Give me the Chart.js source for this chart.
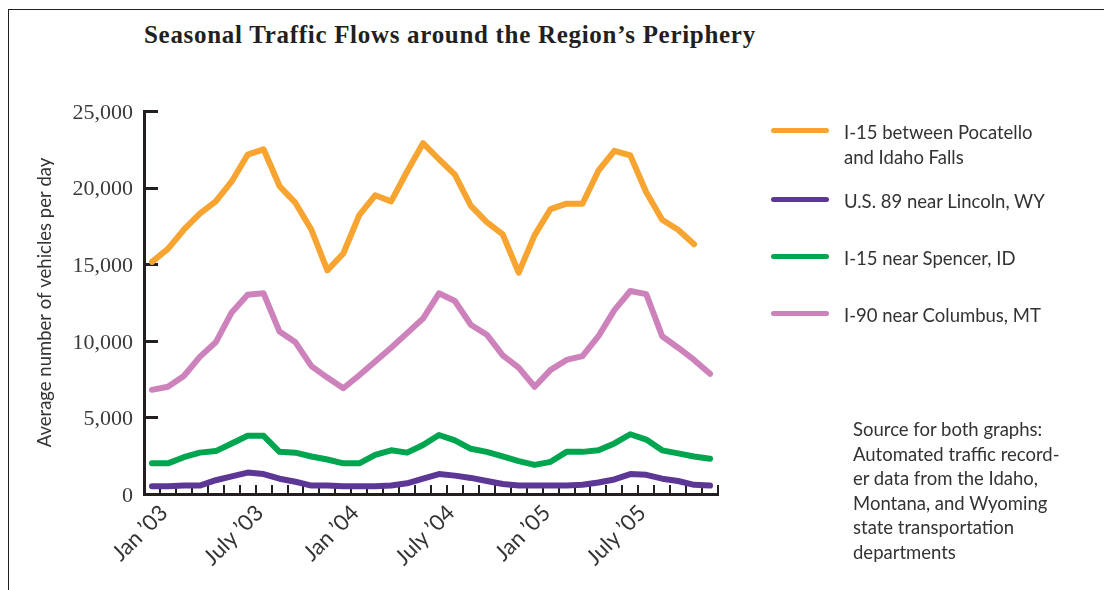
<!DOCTYPE html>
<html>
<head>
<meta charset="utf-8">
<script src="https://cdn.jsdelivr.net/npm/chart.js@4.4.0/dist/chart.umd.min.js"></script>
<style>
  body { margin: 0; background: #fff; }
  #wrap { position: relative; width: 1104px; height: 590px; overflow: hidden; }
  #frame { position: absolute; left: 8px; top: 9px; width: 1200px; height: 700px;
           border-left: 1px solid #231f20; border-top: 1px solid #231f20; }
  #title { position: absolute; left: 144px; top: 22px; font: bold 25px/25px "Liberation Serif", serif;
           letter-spacing: 0.7px; color: #231f20; white-space: nowrap; }
  #chart { position: absolute; left: 0; top: 0; }
  .lg-item { position: absolute; left: 771px; }
  .lg-swatch { position: absolute; left: 0; width: 58px; height: 5px; border-radius: 3px; }
  .lg-text { position: absolute; left: 73px; top: 0; white-space: pre; font: 18.5px/25px Lato, sans-serif; color: #333; }
  #source { position: absolute; left: 853px; top: 417px; font: 18.5px/24.5px Lato, sans-serif; color: #333; }
</style>
</head>
<body>
<div id="wrap">
  <div id="frame"></div>
  <div id="title">Seasonal Traffic Flows around the Region’s Periphery</div>
  <canvas id="chart" width="1104" height="590"></canvas>
  <div id="legend"></div>
  <div id="source">Source for both graphs:<br>Automated traffic record-<br>er data from the Idaho,<br>Montana, and Wyoming<br>state transportation<br>departments</div>
</div>
<script>
// months on the x axis (only Jan and July are labelled)
const months = [
    "Jan ’03", "Feb ’03", "Mar ’03", "Apr ’03", "May ’03", "June ’03",
    "July ’03", "Aug ’03", "Sep ’03", "Oct ’03", "Nov ’03", "Dec ’03",
    "Jan ’04", "Feb ’04", "Mar ’04", "Apr ’04", "May ’04", "June ’04",
    "July ’04", "Aug ’04", "Sep ’04", "Oct ’04", "Nov ’04", "Dec ’04",
    "Jan ’05", "Feb ’05", "Mar ’05", "Apr ’05", "May ’05", "June ’05",
    "July ’05", "Aug ’05", "Sep ’05", "Oct ’05", "Nov ’05", "Dec ’05"
];

const i15Pocatello = [
    15150, 16000, 17250, 18300, 19100, 20400, 22150, 22500, 20100, 19000, 17250, 14600,
    15700, 18200, 19500, 19100, 21050, 22900, 21850, 20850, 18800, 17750, 16950, 14450,
    16900, 18600, 18950, 18950, 21100, 22400, 22100, 19700, 17900, 17250, 16300, null
];
const us89Lincoln = [
    500, 500, 550, 550, 900, 1150, 1400, 1300, 1000, 800, 550, 550,
    500, 500, 500, 550, 700, 1000, 1300, 1200, 1050, 850, 650, 550,
    550, 550, 550, 600, 750, 950, 1300, 1250, 1000, 850, 600, 550
];
const i15Spencer = [
    2000, 2000, 2400, 2700, 2800, 3300, 3800, 3800, 2750, 2700, 2450, 2250,
    2000, 2000, 2550, 2850, 2700, 3200, 3850, 3500, 2950, 2750, 2450, 2150,
    1900, 2100, 2750, 2750, 2850, 3300, 3900, 3550, 2850, 2650, 2450, 2300
];
const i90Columbus = [
    6800, 7000, 7700, 8950, 9900, 11850, 13000, 13100, 10600, 9900, 8350, 7600,
    6900, 7750, 8650, 9550, 10500, 11450, 13100, 12600, 11050, 10400, 9050, 8250,
    7000, 8100, 8750, 9000, 10300, 12000, 13250, 13050, 10300, 9550, 8750, 7850
];

const yTicks = [0, 5000, 10000, 15000, 20000, 25000];

const seriesNames = [
    "I-15 between Pocatello\nand Idaho Falls",
    "U.S. 89 near Lincoln, WY",
    "I-15 near Spencer, ID",
    "I-90 near Columbus, MT"
];
const seriesColors = ["#f7a430", "#5c3796", "#00a54f", "#cd82bc"];

const axisColor = "#231f20";

// small tick marks pointing into the plot, like the printed original
const inwardTicks = {
    id: "inwardTicks",
    beforeDatasetsDraw(chart) {
        const { ctx, chartArea, scales: { x, y } } = chart;
        ctx.save();
        ctx.strokeStyle = axisColor;
        ctx.lineWidth = 2;
        ctx.beginPath();
        for (let i = 1; i <= months.length; i++) {
            const px = Math.round(x.getPixelForValue(i - 0.5));
            ctx.moveTo(px, chartArea.bottom);
            ctx.lineTo(px, chartArea.bottom - 9);
        }
        ctx.stroke();
        ctx.lineWidth = 3;
        ctx.beginPath();
        y.ticks.forEach(t => {
            const py = Math.round(y.getPixelForValue(t.value)) + 0.5;
            ctx.moveTo(chartArea.left, py);
            ctx.lineTo(chartArea.left + 14, py);
        });
        ctx.stroke();
        ctx.restore();
    }
};

const seriesData = [i15Pocatello, us89Lincoln, i15Spencer, i90Columbus];

const chart = new Chart(document.getElementById("chart"), {
    type: "line",
    data: {
        labels: months,
        datasets: seriesData.map((d, i) => ({
            label: seriesNames[i],
            data: d,
            borderColor: seriesColors[i],
            backgroundColor: seriesColors[i],
            borderWidth: 6,
            borderJoinStyle: "round",
            borderCapStyle: "round",
            pointRadius: 0,
            tension: 0
        }))
    },
    options: {
        responsive: false,
        animation: false,
        layout: { padding: { left: 8, top: 111, right: 386, bottom: 0 } },
        plugins: {
            legend: { display: false },
            tooltip: { enabled: false }
        },
        scales: {
            x: {
                type: "category",
                offset: true,
                grid: { display: false, drawTicks: false, offset: true },
                border: { display: true, width: 3, color: axisColor },
                ticks: {
                    autoSkip: false,
                    minRotation: 45,
                    maxRotation: 45,
                    labelOffset: 12,
                    padding: 6,
                    color: "#333",
                    font: { family: "Lato", size: 22 },
                    callback: function (value, index) {
                        return index % 6 === 0 ? this.getLabelForValue(value) : "";
                    }
                },
                afterFit: s => { s.height = 96; }
            },
            y: {
                min: 0,
                max: 25000,
                grid: { display: false, drawTicks: false },
                border: { display: true, width: 3, color: axisColor },
                afterBuildTicks: s => { s.ticks = yTicks.map(v => ({ value: v })); },
                ticks: {
                    padding: 11,
                    labelOffset: 2,
                    color: "#3a3a3a",
                    font: { family: "Liberation Serif", size: 22 },
                    callback: v => v.toLocaleString("en-US")
                },
                title: {
                    display: true,
                    text: "Average number of vehicles per day",
                    color: "#333",
                    font: { family: "Lato", size: 18.5 },
                    padding: { top: 26, bottom: 0 }
                },
                afterFit: s => { s.width = 136; }
            }
        }
    },
    plugins: [inwardTicks]
});

// legend on the right, built from the datasets
const legendTops = [120, 189, 246, 303];
const legendBox = document.getElementById("legend");
chart.data.datasets.forEach((ds, i) => {
    const item = document.createElement("div");
    item.className = "lg-item";
    item.style.top = legendTops[i] + "px";
    const sw = document.createElement("div");
    sw.className = "lg-swatch";
    sw.style.background = ds.borderColor;
    sw.style.top = "8px";
    const tx = document.createElement("div");
    tx.className = "lg-text";
    tx.textContent = ds.label;
    item.appendChild(sw);
    item.appendChild(tx);
    legendBox.appendChild(item);
});
</script>
</body>
</html>
